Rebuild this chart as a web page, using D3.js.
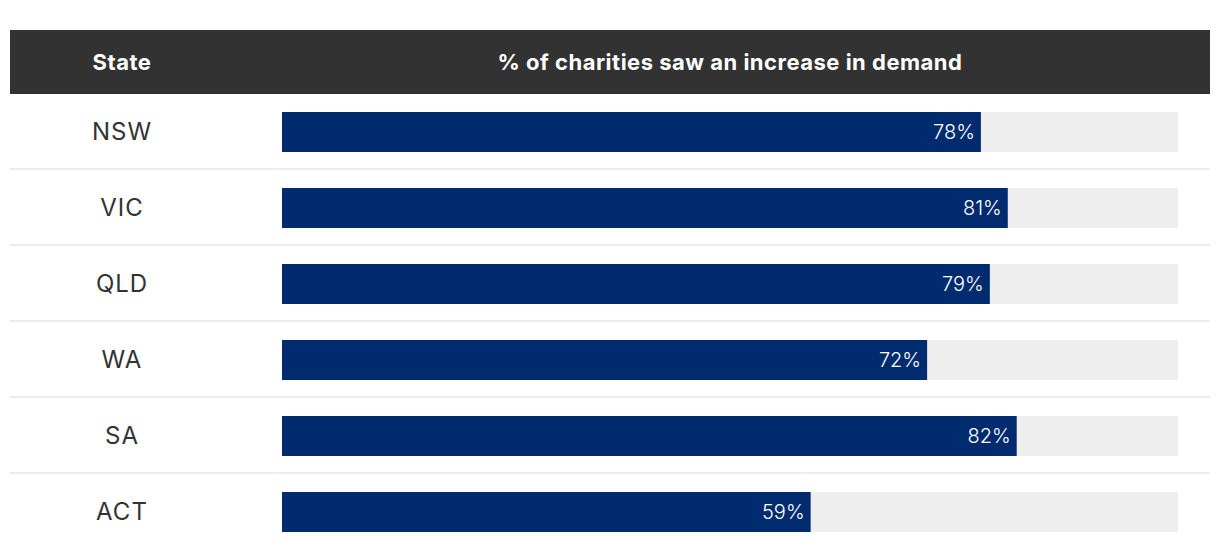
<!DOCTYPE html>
<html>
<head>
<meta charset="utf-8">
<script src="https://cdn.jsdelivr.net/npm/d3@7"></script>
<style>
  body { margin: 0; background: #fff; }
  svg text { font-family: "Inter", "Open Sans", sans-serif; }
</style>
</head>
<body>
<svg width="1220" height="558"></svg>
<script>
var states = ["NSW", "VIC", "QLD", "WA", "SA", "ACT"];
var values = [78, 81, 79, 72, 82, 59];
var headers = ["State", "% of charities saw an increase in demand"];

var svg = d3.select("svg");

var x = d3.scaleLinear().domain([0, 100]).range([282, 1178]);
var y = d3.scaleBand().domain(states).range([94, 94 + 76 * states.length]);

// header band
svg.append("rect")
    .attr("x", 10).attr("y", 30)
    .attr("width", 1200).attr("height", 64)
    .attr("fill", "#323232");

svg.selectAll("text.head")
    .data(headers)
    .enter()
    .append("text")
    .attr("class", "head")
    .attr("x", function (d, i) { return i === 0 ? 122 : (x(0) + x(100)) / 2; })
    .attr("y", 62)
    .attr("text-anchor", "middle")
    .attr("dominant-baseline", "central")
    .attr("fill", "#fff")
    .style("font-weight", "bold")
    .style("font-size", "22px")
    .style("letter-spacing", "0.5px")
    .text(function (d) { return d; });

var rows = svg.selectAll("g.row")
    .data(states)
    .enter()
    .append("g")
    .attr("class", "row")
    .attr("transform", function (d) { return "translate(0," + y(d) + ")"; });

// separators between rows
rows.filter(function (d, i) { return i < states.length - 1; })
    .append("rect")
    .attr("x", 10).attr("y", 74)
    .attr("width", 1200).attr("height", 2)
    .attr("fill", "#ececec");

// state names
rows.append("text")
    .attr("x", 122).attr("y", 37)
    .attr("text-anchor", "middle")
    .attr("dominant-baseline", "central")
    .attr("fill", "#333")
    .style("font-size", "24px")
    .style("letter-spacing", "1px")
    .text(function (d) { return d; });

// track
rows.append("rect")
    .attr("x", x(0)).attr("y", 18)
    .attr("width", x(100) - x(0)).attr("height", 40)
    .attr("fill", "#eeeeee");

// bars
rows.append("rect")
    .attr("x", x(0)).attr("y", 18)
    .attr("width", function (d, i) { return x(values[i]) - x(0); })
    .attr("height", 40)
    .attr("fill", "#002b6f");

// value labels
rows.append("text")
    .attr("x", function (d, i) { return x(values[i]) - 6; })
    .attr("y", 38)
    .attr("text-anchor", "end")
    .attr("dominant-baseline", "central")
    .attr("fill", "#fff")
    .style("font-weight", 300)
    .style("font-size", "20px")
    .text(function (d, i) { return values[i] + "%"; });
</script>
</body>
</html>
